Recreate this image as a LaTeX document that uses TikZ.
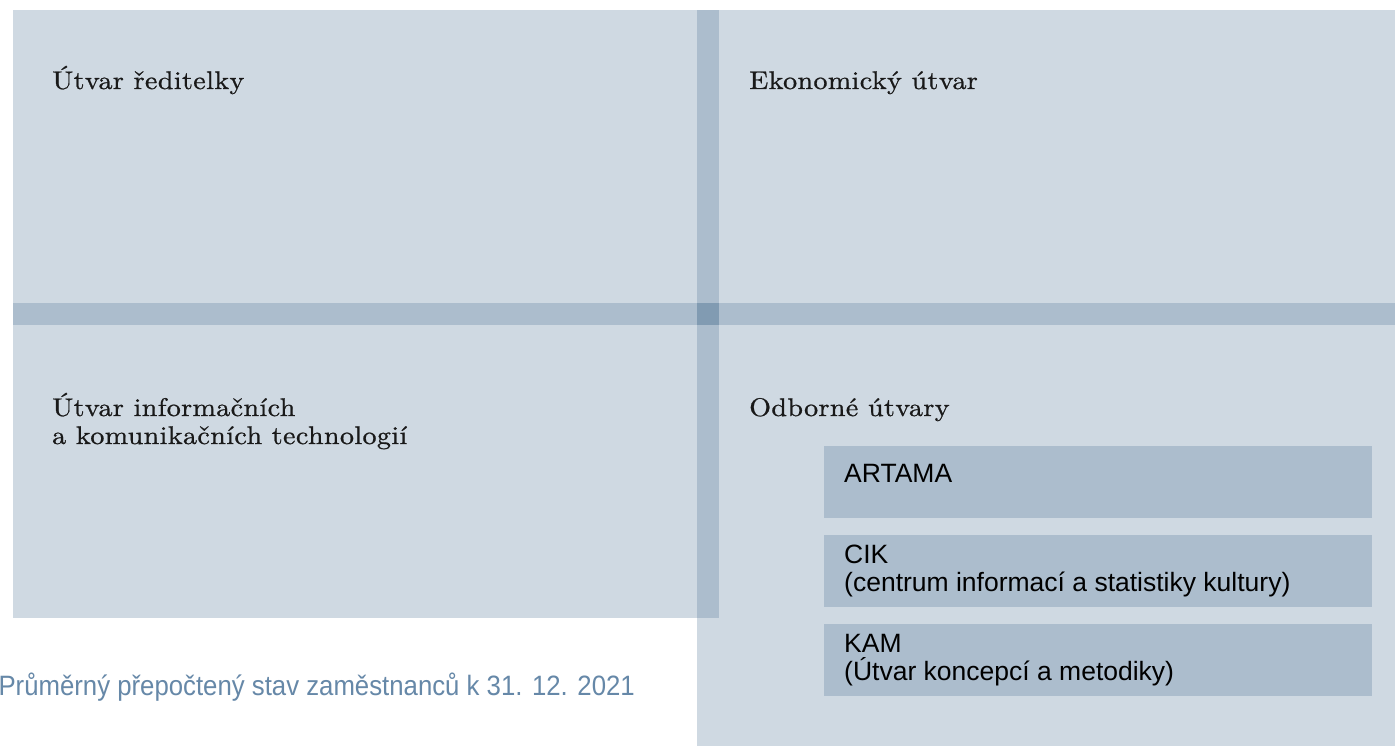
\documentclass[tikz,border=0pt]{standalone}
\usepackage{fontspec}
\setmainfont{lmroman10-regular}[Extension=.otf, FakeStretch=1.1, LetterSpace=1.5, FakeBold=0.8]
\newfontfamily\boxfont{Liberation Sans}
\newfontfamily\footfont{Liberation Sans}[FakeStretch=0.92]
\definecolor{unitblue}{RGB}{84,119,151}
\definecolor{foottext}{RGB}{102,136,168}
\begin{document}
\begin{tikzpicture}[x=1pt,y=-1pt,
  unit/.style={fill=unitblue, fill opacity=0.28, draw=none},
  head/.style={anchor=base west, inner sep=0pt, text=black!90,
    font=\rmfamily\fontsize{25.5}{28}\selectfont},
  sub/.style={anchor=base west, inner sep=0pt, text=black,
    font=\boxfont\fontsize{26.5}{28.5}\selectfont},
  foot/.style={anchor=base east, inner sep=0pt, text=foottext,
    font=\footfont\fontsize{28}{32}\selectfont}
]
\useasboundingbox (0,0) rectangle (1395,746);
\fill[white] (0,0) rectangle (1395,746);
% four units
\path[unit] (13,10) rectangle (719,325);
\path[unit] (697,10) rectangle (1395,325);
\path[unit] (13,303) rectangle (719,618);
\path[unit] (697,303) rectangle (1395,746);
% sub units
\path[unit] (824,446) rectangle (1372,518);
\path[unit] (824,535) rectangle (1372,607);
\path[unit] (824,624) rectangle (1372,696);
% labels
\node[head] (reditelka) at (52,89) {Útvar ředitelky};
\node[head] (ekonom) at (749,89) {Ekonomický útvar};
\node[head] (ikt) at (52,416) {\parbox[t]{500pt}{\raggedright Útvar informačních\\a komunikačních technologií}};
\node[head] (odborne) at (749,416) {Odborné útvary};
\node[sub] (artama) at (844,482.5) {ARTAMA};
\node[sub] (cik) at (844,563) {\parbox[t]{520pt}{\raggedright CIK\\(centrum informací a statistiky kultury)}};
\node[sub] (kam) at (844,652) {\parbox[t]{520pt}{\raggedright KAM\\(Útvar koncepcí a metodiky)}};
\node[foot] (stav) at (635,695) {Průměrný přepočtený stav zaměstnanců k 31. 12. 2021};
\end{tikzpicture}
\end{document}
